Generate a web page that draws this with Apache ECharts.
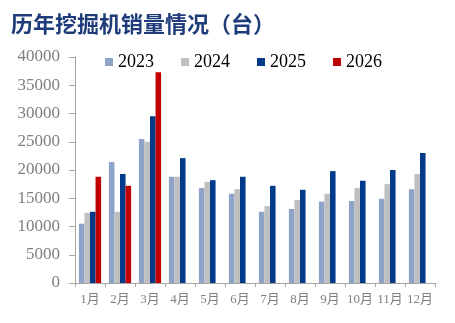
<!DOCTYPE html>
<html>
<head>
<meta charset="utf-8">
<script src="https://cdn.jsdelivr.net/npm/echarts@6/dist/echarts.min.js"></script>
<style>
  html, body { margin: 0; padding: 0; background: #fff; }
  #chart { width: 455px; height: 323px; }
</style>
</head>
<body>
<div id="chart"></div>
<script>
// Monthly excavator sales (units), by year
const months = ['1月', '2月', '3月', '4月', '5月', '6月', '7月', '8月', '9月', '10月', '11月', '12月'];
const years = ['2023', '2024', '2025', '2026'];
const sales2023 = [10500, 21400, 25500, 18800, 16800, 15800, 12600, 13100, 14400, 14500, 14900, 16600];
const sales2024 = [12400, 12600, 25000, 18800, 17900, 16600, 13600, 14700, 15800, 16800, 17500, 19300];
const sales2025 = [12600, 19300, 29500, 22100, 18200, 18800, 17200, 16500, 19800, 18100, 20000, 23000];
const sales2026 = [18800, 17200, 37300, null, null, null, null, null, null, null, null, null];
const yTicks = { min: 0, max: 40000, step: 5000 };

const colors = ['#8DA4C8', '#BFBFBF', '#023A8A', '#C00000'];
const seriesData = [sales2023, sales2024, sales2025, sales2026];

const chart = echarts.init(document.getElementById('chart'));
chart.setOption({
  animation: false,
  backgroundColor: '#ffffff',
  title: {
    text: '历年挖掘机销量情况（台）',
    left: 6,
    top: 8,
    textStyle: {
      fontFamily: 'Noto Sans CJK SC',
      fontSize: 22,
      fontWeight: 'bold',
      color: '#1F3C7A'
    }
  },
  legend: {
    left: 100,
    top: 48,
    itemWidth: 8,
    itemHeight: 8,
    itemGap: 27,
    icon: 'rect',
    textStyle: {
      fontFamily: 'Liberation Serif',
      fontSize: 18,
      color: '#000'
    },
    data: years
  },
  grid: {
    left: 75,
    right: 20,
    top: 57,
    bottom: 40,
    containLabel: false
  },
  xAxis: {
    type: 'category',
    data: months,
    axisLine: { show: true, lineStyle: { color: '#A6A6A6', width: 1 } },
    axisTick: { show: true, length: 4, alignWithLabel: false, lineStyle: { color: '#A6A6A6' } },
    axisLabel: {
      margin: 10,
      fontFamily: 'Liberation Serif, Noto Sans CJK SC',
      fontSize: 13,
      color: '#7F7F7F',
      interval: 0
    }
  },
  yAxis: {
    type: 'value',
    min: yTicks.min,
    max: yTicks.max,
    interval: yTicks.step,
    splitLine: { show: false },
    axisLine: { show: true, lineStyle: { color: '#A6A6A6', width: 1 } },
    axisTick: { show: true, length: 6, lineStyle: { color: '#A6A6A6' } },
    axisLabel: {
      margin: 15,
      fontFamily: 'Liberation Serif',
      fontSize: 17,
      color: '#7F7F7F',
      formatter: (v) => String(v)
    }
  },
  series: years.map((y, i) => ({
    name: y,
    type: 'bar',
    data: seriesData[i],
    barGap: '0%',
    barCategoryGap: '26%',
    itemStyle: { color: colors[i] }
  }))
});
</script>
</body>
</html>
